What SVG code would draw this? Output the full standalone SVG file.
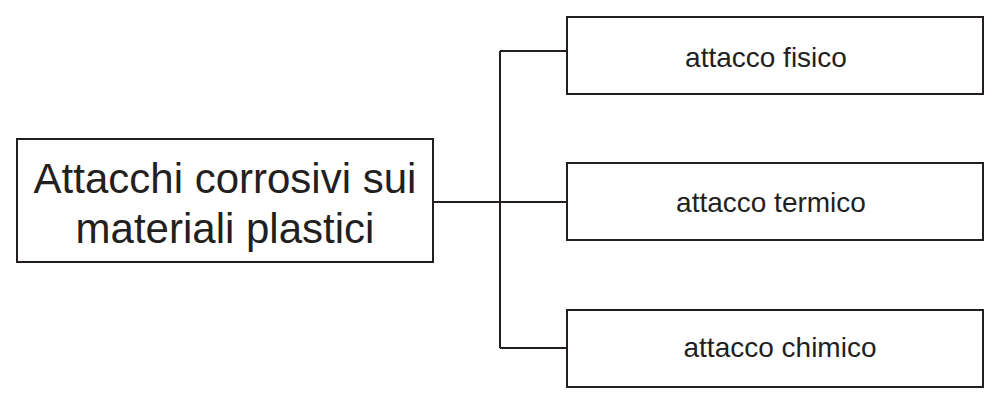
<svg xmlns="http://www.w3.org/2000/svg" width="1000" height="404" viewBox="0 0 1000 404">
<style>
.box{fill:#fff;stroke:#231f20;stroke-width:2}
.ln{fill:none;stroke:#231f20;stroke-width:2}
.t{font-family:"Liberation Sans",Arial,sans-serif;fill:#231f20;text-anchor:middle}
.big{font-size:42px}
.sm{font-size:28px}
</style>
<rect width="1000" height="404" fill="#fff"/>
<g id="connectors">
<path class="ln" d="M433 202H567M500 51V348M500 51H567M500 348H567"/>
</g>
<g id="root">
<rect class="box" x="17" y="139" width="416" height="123"/>
<text class="t big" x="225" y="193">Attacchi corrosivi sui</text>
<text class="t big" x="225" y="243">materiali plastici</text>
</g>
<g id="fisico">
<rect class="box" x="567" y="17" width="416" height="77"/>
<text class="t sm" x="766" y="67">attacco fisico</text>
</g>
<g id="termico">
<rect class="box" x="567" y="163" width="416" height="77"/>
<text class="t sm" x="771" y="212">attacco termico</text>
</g>
<g id="chimico">
<rect class="box" x="567" y="310" width="416" height="77"/>
<text class="t sm" x="780" y="357">attacco chimico</text>
</g>
</svg>
